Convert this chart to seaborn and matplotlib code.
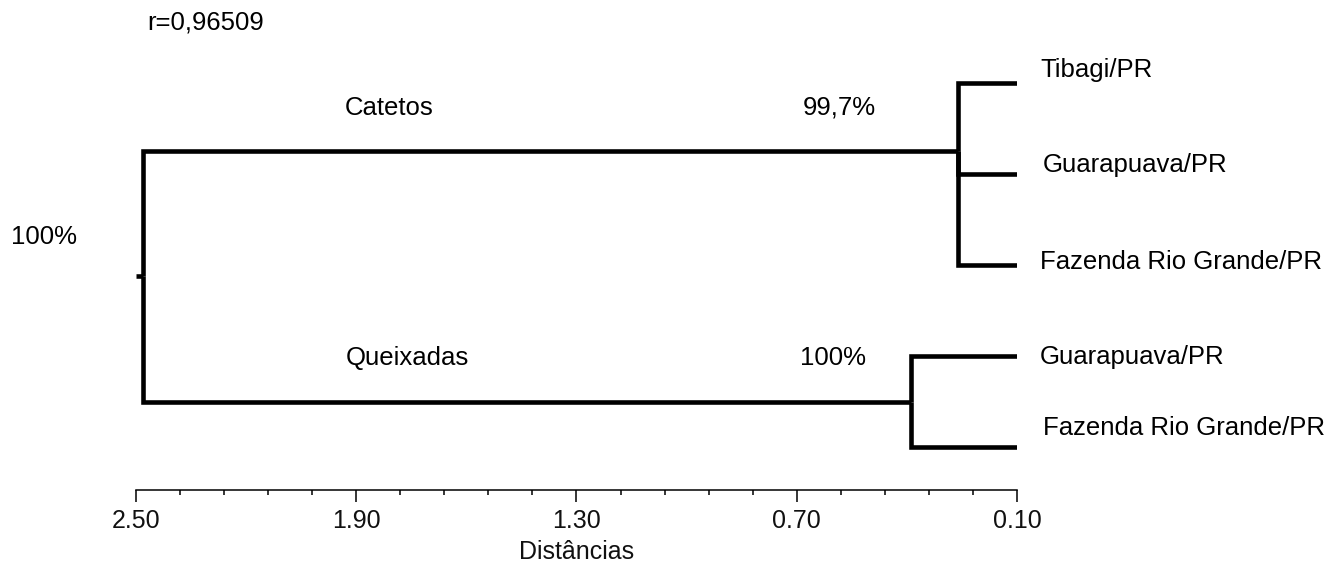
import numpy as np
import pandas as pd
import matplotlib
matplotlib.use('Agg')
import matplotlib.pyplot as plt
import seaborn as sns

# leaves, top to bottom
leaves = ['Tibagi/PR', 'Guarapuava/PR', 'Fazenda Rio Grande/PR',
          'Guarapuava/PR', 'Fazenda Rio Grande/PR']
leaf_group = ['Catetos', 'Catetos', 'Catetos', 'Queixadas', 'Queixadas']
leaf_dist = 0.10

# cluster nodes (distance at which they join)
groups = ['Catetos', 'Queixadas']
group_dist = [0.26, 0.39]
group_support = ['99,7%', '100%']
root_dist = 2.48
root_support = '100%'
r_coef = 'r=0,96509'

xticks = [2.50, 1.90, 1.30, 0.70, 0.10]

# vertical layout (leaf index units)
leaf_pos = np.arange(len(leaves))
group_pos = [0.75, 3.5]
root_pos = np.mean(group_pos)
leaf_label_pos = [-0.14, 0.90, 1.97, 3.01, 3.79]
leaf_label_dx = [0.037, 0.029, 0.037, 0.037, 0.029]

# build elbow segments
rows = []
seg = 0
for g, gd, gp in zip(groups, group_dist, group_pos):
    for i, lg in enumerate(leaf_group):
        if lg != g:
            continue
        for x, y in [(gd, gp), (gd, leaf_pos[i]), (leaf_dist, leaf_pos[i])]:
            rows.append({'seg': seg, 'dist': x, 'pos': y})
        seg += 1
    for x, y in [(root_dist, root_pos), (root_dist, gp), (gd, gp)]:
        rows.append({'seg': seg, 'dist': x, 'pos': y})
    seg += 1
for x in [xticks[0], root_dist]:
    rows.append({'seg': seg, 'dist': x, 'pos': root_pos})
seg += 1
df = pd.DataFrame(rows)

sns.set_theme(style='white')
plt.rcParams['font.family'] = ['Liberation Sans', 'DejaVu Sans']
plt.rcParams['text.color'] = 'black'

fig = plt.figure(figsize=(13.39, 5.62), dpi=100)
ax = fig.add_axes([136 / 1339, (562 - 490) / 562, (1017 - 136) / 1339, 490 / 562])

sns.lineplot(data=df, x='dist', y='pos', units='seg', estimator=None, sort=False,
             color='black', linewidth=3.3, ax=ax, legend=False,
             solid_joinstyle='miter', solid_capstyle='butt')

ax.set_xlim(2.50, 0.10)
ax.set_ylim(4.4725, -0.912)

for s in ['top', 'left', 'right']:
    ax.spines[s].set_visible(False)
ax.spines['bottom'].set_color('black')
ax.spines['bottom'].set_linewidth(1.1)

ax.set_xticks(xticks)
ax.set_xticklabels([f'{t:.2f}' for t in xticks])
ax.set_xticks(np.arange(2.50, 0.05, -0.12), minor=True)
ax.set_yticks([])
ax.tick_params(axis='x', which='major', direction='out', length=8.5, width=1.1,
               color='black', pad=5, labelsize=18, labelcolor='#111111', bottom=True)
ax.tick_params(axis='x', which='minor', direction='out', length=3.6, width=1.1,
               color='black', bottom=True)
ax.set_xlabel('Distâncias', fontsize=18, color='#111111', labelpad=5)
ax.set_ylabel('')

fs = 18.5
for lab, y, dx in zip(leaves, leaf_label_pos, leaf_label_dx):
    ax.text(dx, y, lab, ha='left', va='center', fontsize=fs, color='black', clip_on=False)

group_label_x = [1.81, 1.76]
support_x = [0.584, 0.60]
for g, gp, sup, gx, sx in zip(groups, group_pos, group_support, group_label_x, support_x):
    ax.text(gx, gp - 0.48, g, ha='center', va='center', fontsize=fs, color='black', clip_on=False)
    ax.text(sx, gp - 0.48, sup, ha='center', va='center', fontsize=fs, color='black', clip_on=False)

ax.text(2.75, 1.69, root_support, ha='center', va='center', fontsize=fs, color='black', clip_on=False)
ax.text(2.31, -0.66, r_coef, ha='center', va='center', fontsize=fs, color='black', clip_on=False)

fig.savefig('out.png', dpi=100, facecolor='white')
